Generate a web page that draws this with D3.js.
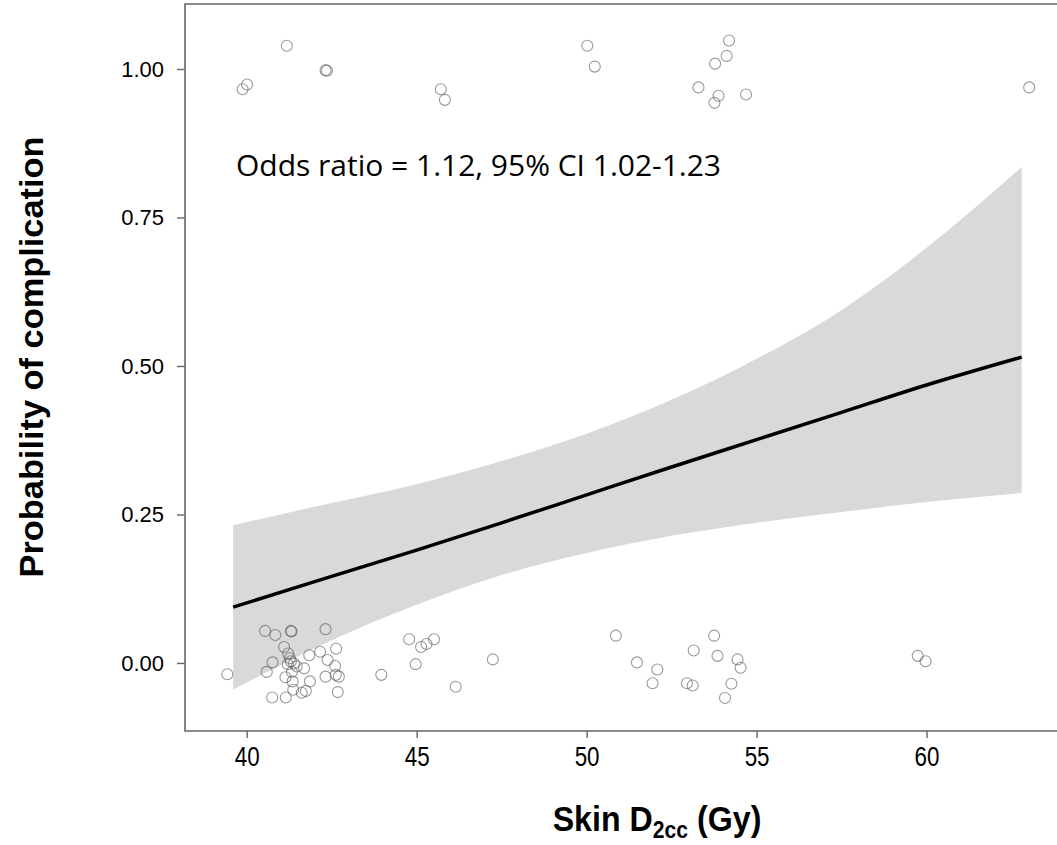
<!DOCTYPE html>
<html>
<head>
<meta charset="utf-8">
<script src="https://cdn.jsdelivr.net/npm/d3@7"></script>
<style>
  body { margin: 0; background: #fff; }
  text { font-family: "Liberation Sans", Arial, sans-serif; }
</style>
</head>
<body>
<div id="chart"></div>
<script>
// Fitted curve and confidence band
const fitX    = [39.6, 42, 45, 47.5, 50, 52.5, 55, 57.5, 60, 62.8];
const fitP    = [0.094, 0.137, 0.19, 0.236, 0.283, 0.33, 0.376, 0.422, 0.468, 0.515];
const bandLow = [-0.045, 0.025, 0.098, 0.148, 0.185, 0.214, 0.236, 0.254, 0.271, 0.286];
const bandHigh = [0.232, 0.263, 0.301, 0.34, 0.386, 0.443, 0.512, 0.594, 0.699, 0.835];

// Jittered observations (dose, outcome)
const pointX = [
  39.88, 40.01, 41.18, 42.32, 42.36, 45.71, 45.83, 50.02, 50.24, 53.29, 53.76, 53.88, 53.78, 54.12, 54.19, 54.69, 63.02,
  39.43, 40.54, 40.84, 41.30, 41.32, 42.32, 41.10, 41.22, 41.27, 40.76, 40.59, 41.39, 41.47, 41.69, 41.84, 42.16,
  42.38, 42.63, 42.60, 41.33, 41.14, 41.35, 42.32, 42.62, 42.71, 41.86, 41.37, 41.74, 41.62, 42.68, 40.75, 41.15,
  41.21, 41.30,
  44.78, 45.13, 45.29, 45.51, 44.97, 43.96, 47.24, 46.15,
  50.86, 51.48, 52.08, 51.94, 52.95, 53.12, 53.75, 53.15, 53.85, 54.44, 54.53, 54.26, 54.07,
  59.74, 59.97
];
const pointY = [
  0.966, 0.974, 1.039, 0.998, 0.997, 0.966, 0.948, 1.039, 1.004, 0.969, 0.943, 0.955, 1.009, 1.022, 1.048, 0.957, 0.969,
  -0.019, 0.054, 0.047, 0.054, 0.053, 0.057, 0.027, 0.016, 0.008, 0.001, -0.015, -0.001, -0.006, -0.009, 0.013, 0.019,
  0.005, 0.024, -0.005, -0.015, -0.024, -0.031, -0.023, -0.020, -0.023, -0.031, -0.045, -0.047, -0.050, -0.049, -0.058, -0.058,
  -0.002, 0.003,
  0.040, 0.027, 0.032, 0.040, -0.002, -0.020, 0.006, -0.040,
  0.046, 0.001, -0.011, -0.034, -0.034, -0.038, 0.046, 0.021, 0.012, 0.006, -0.008, -0.035, -0.059,
  0.012, 0.003
];

const xTicks = [40, 45, 50, 55, 60];
const yTicks = [0, 0.25, 0.5, 0.75, 1];

const width = 1057;
const height = 845;
const panel = { left: 185, top: 4, right: 1070, bottom: 731 };

const svg = d3.select('#chart')
    .append('svg')
    .attr('width', width)
    .attr('height', height);

const x = d3.scaleLinear().domain([38.185, 64.22]).range([panel.left, panel.right]);
const y = d3.scaleLinear().domain([-0.1145, 1.1094]).range([panel.bottom, panel.top]);

// confidence band
const fit = fitX.map((v, i) => ({ x: v, p: fitP[i], lo: bandLow[i], hi: bandHigh[i] }));

svg.append('path')
    .datum(fit)
    .attr('fill', '#d9d9d9')
    .attr('d', d3.area()
        .x(d => x(d.x))
        .y0(d => y(d.lo))
        .y1(d => y(d.hi))
        .curve(d3.curveMonotoneX));

// points
svg.append('g')
    .selectAll('circle')
    .data(pointX.map((v, i) => [v, pointY[i]]))
    .enter()
    .append('circle')
    .attr('cx', d => x(d[0]))
    .attr('cy', d => y(d[1]))
    .attr('r', 5.5)
    .attr('fill', 'none')
    .attr('stroke', '#555')
    .attr('stroke-opacity', 0.6)
    .attr('stroke-width', 1.1);

// fitted line
svg.append('path')
    .datum(fit)
    .attr('fill', 'none')
    .attr('stroke', '#000')
    .attr('stroke-width', 3.5)
    .attr('d', d3.line().x(d => x(d.x)).y(d => y(d.p)).curve(d3.curveMonotoneX));

// frame
svg.append('path')
    .attr('d', `M${panel.right},${panel.top}H${panel.left}V${panel.bottom}H${panel.right}`)
    .attr('fill', 'none')
    .attr('stroke', '#666')
    .attr('stroke-width', 1.6);

// axes
const xAxis = svg.append('g')
    .attr('transform', `translate(0,${panel.bottom})`)
    .call(d3.axisBottom(x).tickValues(xTicks).tickSize(7).tickPadding(8).tickFormat(d3.format('d')));
xAxis.select('.domain').remove();
xAxis.selectAll('line').attr('stroke', '#666').attr('stroke-width', 1.4);
xAxis.selectAll('text')
    .attr('font-size', 28)
    .attr('fill', '#000')
    .attr('transform', 'scale(0.8,1)');

const yAxis = svg.append('g')
    .attr('transform', `translate(${panel.left},0)`)
    .call(d3.axisLeft(y).tickValues(yTicks).tickSize(8).tickPadding(13).tickFormat(d3.format('.2f')));
yAxis.select('.domain').remove();
yAxis.selectAll('line').attr('stroke', '#666').attr('stroke-width', 1.4);
yAxis.selectAll('text')
    .attr('font-size', 22)
    .attr('fill', '#000');

// annotation
svg.append('text')
    .attr('x', 236)
    .attr('y', 176)
    .attr('font-size', 29)
    .attr('textLength', 485)
    .attr('lengthAdjust', 'spacingAndGlyphs')
    .style('font-family', '"Open Sans", "Liberation Sans", sans-serif')
    .text('Odds ratio = 1.12, 95% CI 1.02-1.23');

// axis titles
svg.append('text')
    .attr('transform', 'translate(43,357) rotate(-90)')
    .attr('text-anchor', 'middle')
    .attr('font-size', 34)
    .attr('font-weight', 'bold')
    .attr('textLength', 441)
    .attr('lengthAdjust', 'spacingAndGlyphs')
    .text('Probability of complication');

const xt = svg.append('text')
    .attr('transform', 'translate(657,831) scale(0.92,1)')
    .attr('text-anchor', 'middle')
    .attr('font-size', 35)
    .attr('font-weight', 'bold');
xt.append('tspan').text('Skin D');
xt.append('tspan').attr('font-size', 23).attr('dy', 7).text('2cc');
xt.append('tspan').attr('dy', -7).text(' (Gy)');
</script>
</body>
</html>
